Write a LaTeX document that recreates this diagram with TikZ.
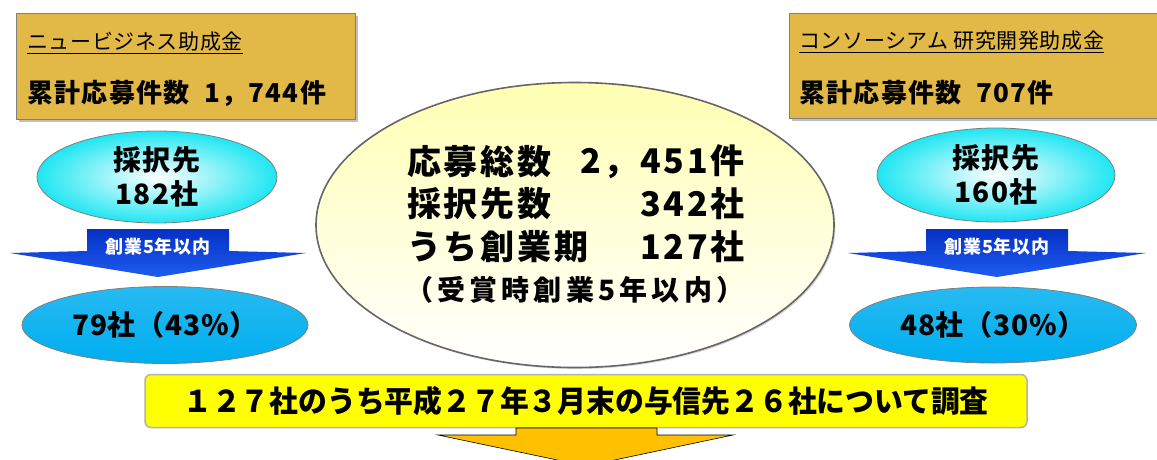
\documentclass[tikz,border=0pt]{standalone}
\usepackage{fontspec}
\setmainfont{Noto Sans CJK JP}
\definecolor{goldFill}{HTML}{E2B847}
\definecolor{frameGray}{HTML}{7F7F7F}
\definecolor{cyanEdge}{HTML}{1FE6F2}
\definecolor{skyFill}{HTML}{00AEEF}
\definecolor{creamTop}{HTML}{FFFFB3}
\definecolor{arrowBlue}{HTML}{0530C4}
\definecolor{arrowBlueLight}{HTML}{1F5CF0}
\definecolor{barYellow}{HTML}{FFFF00}
\definecolor{arrowOrange}{HTML}{FFC000}
\usetikzlibrary{calc, positioning, shapes.geometric, shadows}
\newcommand{\tracked}[1]{\addfontfeature{LetterSpace=#1}}

\begin{document}
\begin{tikzpicture}[x=1pt, y=-1pt,
    goldBox/.style={draw=frameGray, line width=1pt, fill=goldFill, anchor=north west,
      drop shadow={shadow xshift=2pt, shadow yshift=-2pt, fill=frameGray}},
    selEllipse/.style={ellipse, draw=frameGray, line width=0.8pt, inner sep=0pt,
      inner color=white, outer color=cyanEdge, align=center,
      font=\bfseries\fontsize{28}{34}\selectfont\tracked{5}},
    resultEllipse/.style={ellipse, draw=frameGray, line width=0.8pt, inner sep=0pt,
      top color=skyFill!85!white, bottom color=skyFill,
      font=\bfseries\fontsize{28}{30}\selectfont\tracked{3}},
    blueArrow/.style={top color=arrowBlue, bottom color=arrowBlueLight, draw=none},
    arrowLabel/.style={text=white, font=\bfseries\fontsize{18}{19}\selectfont\tracked{5}},
    boxTitle/.style={anchor=west, inner sep=0pt, font=\fontsize{21}{23}\selectfont\tracked{3}},
    boxCount/.style={anchor=west, inner sep=0pt, font=\bfseries\fontsize{26}{28}\selectfont\tracked{5}},
    mainLine/.style={inner sep=0pt, font=\bfseries\fontsize{34}{36}\selectfont\tracked{8}}]
  \useasboundingbox (0,0) rectangle (1157,459);

  % application boxes
  \node[goldBox, minimum width=339pt, minimum height=106pt] (nbBox) at (16,13) {};
  \node[boxTitle] (nbTitle) at (27,43) {\underline{ニュービジネス助成金}};
  \node[boxCount] (nbCount) at (27,93) {累計応募件数\ \ 1，744件};
  \node[goldBox, minimum width=390pt, minimum height=105pt] (csBox) at (789,13) {};
  \node[boxTitle] (csTitle) at (799,42) {\underline{コンソーシアム 研究開発助成金}};
  \node[boxCount] (csCount) at (799,93) {累計応募件数\ \ 707件};

  % selected companies
  \node[selEllipse, minimum width=240pt, minimum height=92pt] (nbSel) at (157,177) {採択先\\182社};
  \node[selEllipse, minimum width=238pt, minimum height=94pt] (csSel) at (996,175) {採択先\\160社};

  \draw[blueArrow] (87,229) -- (229,229) -- (229,251) -- (306,253) -- (158,277)
    -- (10,253) -- (87,251) -- cycle;
  \node[arrowLabel] (nbFilter) at (158,247) {創業5年以内};
  \draw[blueArrow] (926,229) -- (1068,229) -- (1068,251) -- (1146,253) -- (997,277)
    -- (848,253) -- (926,251) -- cycle;
  \node[arrowLabel] (csFilter) at (997,247) {創業5年以内};

  \node[resultEllipse, minimum width=286pt, minimum height=77pt] (nbRes) at (165,325) {79社（43\%）};
  \node[resultEllipse, minimum width=287pt, minimum height=76pt] (csRes) at (993,325) {48社（30\%）};

  % totals
  \node[ellipse, draw=frameGray!80!black, line width=1.6pt, top color=creamTop, bottom color=white,
    minimum width=518pt, minimum height=285pt,
    drop shadow={shadow xshift=1.5pt, shadow yshift=-1.5pt, fill=gray!60}] (total) at (575,225) {};
  \node[mainLine, anchor=west] (tApply) at (407,162) {応募総数};
  \node[mainLine, anchor=east] (tApplyNum) at (745,162) {2，451件};
  \node[mainLine, anchor=west] (tSel) at (407,204) {採択先数};
  \node[mainLine, anchor=east] (tSelNum) at (745,204) {342社};
  \node[mainLine, anchor=west] (tEarly) at (407,247) {うち創業期};
  \node[mainLine, anchor=east] (tEarlyNum) at (745,247) {127社};
  \node[inner sep=0pt, anchor=west, font=\bfseries\fontsize{28}{30}\selectfont\tracked{15}]
    (tNote) at (405,290) {（受賞時創業5年以内）};

  % survey
  \node[draw=gray!60, line width=1.5pt, fill=barYellow, rounded corners=6pt,
    minimum width=882pt, minimum height=53pt] (survey) at (586,401)
    {\bfseries\fontsize{30}{32}\selectfont\scalebox{0.96}[1]{１２７社のうち平成２７年３月末の与信先２６社について調査}};
  \draw[fill=arrowOrange, draw=black, line width=0.6pt]
    (516,428) -- (657,428) -- (657,435) -- (733,435) -- (586,466) -- (438,435) -- (516,435) -- cycle;
\end{tikzpicture}
\end{document}
